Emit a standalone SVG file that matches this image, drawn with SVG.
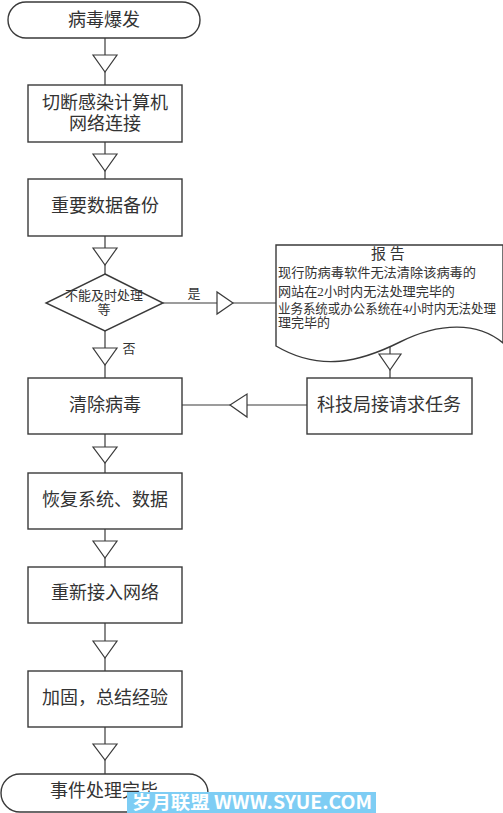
<svg xmlns="http://www.w3.org/2000/svg" width="503" height="813" viewBox="0 0 503 813">
<style>
.s{fill:#fff;stroke:#3a3a3a;stroke-width:1.4}
.ln{fill:none;stroke:#3a3a3a;stroke-width:1.2}
.ar{fill:#fff;stroke:#3a3a3a;stroke-width:1.2}
.t{font-family:"Liberation Serif","Noto Sans CJK SC",serif;font-size:18px;fill:#333;text-anchor:middle;dominant-baseline:central}
.m{font-size:13px}
.r{font-family:"Liberation Serif","Noto Sans CJK SC",serif;font-size:13px;fill:#333}
</style>
<rect width="503" height="813" fill="#fff"/>
<g id="connectors">
<line class="ln" x1="105" y1="38" x2="105" y2="85"/>
<polygon class="ar" points="93,55 117,55 105,72"/>
<line class="ln" x1="105" y1="142" x2="105" y2="179"/>
<polygon class="ar" points="93,154 117,154 105,171"/>
<line class="ln" x1="105" y1="236" x2="105" y2="274"/>
<polygon class="ar" points="93,248 117,248 105,265"/>
<line class="ln" x1="105" y1="331" x2="105" y2="378"/>
<polygon class="ar" points="93,348 117,348 105,365"/>
<line class="ln" x1="163" y1="303" x2="276" y2="303"/>
<polygon class="ar" points="217,292 217,314 233,303"/>
<line class="ln" x1="390" y1="346" x2="390" y2="378"/>
<polygon class="ar" points="379,354 401,354 390,370"/>
<line class="ln" x1="182" y1="405" x2="307" y2="405"/>
<polygon class="ar" points="247,394 247,417 230,405"/>
<line class="ln" x1="105" y1="434" x2="105" y2="473"/>
<polygon class="ar" points="93,447 117,447 105,463"/>
<line class="ln" x1="105" y1="529" x2="105" y2="567"/>
<polygon class="ar" points="93,541 117,541 105,558"/>
<line class="ln" x1="105" y1="623" x2="105" y2="671"/>
<polygon class="ar" points="93,641 117,641 105,658"/>
<line class="ln" x1="105" y1="727" x2="105" y2="774"/>
<polygon class="ar" points="93,744 117,744 105,760"/>
<text class="t m" x="194" y="293">是</text>
<text class="t m" x="129" y="348">否</text>
</g>
<g id="start">
<rect class="s" x="8" y="2" width="192" height="36" rx="18"/>
<text class="t" x="104" y="19.5">病毒爆发</text>
</g>
<g id="cut">
<rect class="s" x="28" y="85" width="154" height="57"/>
<text class="t" x="105" y="103">切断感染计算机</text>
<text class="t" x="105" y="124">网络连接</text>
</g>
<g id="backup">
<rect class="s" x="28" y="179" width="154" height="57"/>
<text class="t" x="105" y="206">重要数据备份</text>
</g>
<g id="decision">
<polygon class="s" points="105,274 163,303 105,331 46,303"/>
<text class="t m" x="104" y="295">不能及时处理</text>
<text class="t m" x="104" y="309.5">等</text>
</g>
<g id="report">
<path class="s" d="M276,346 L276,245 L503,245 L503,343 C478,322 440,322 400,342 C360,362 320,372 276,346 Z"/>
<text class="t" x="388" y="253.5" style="font-size:15px">报 告</text>
<text class="r" x="278" y="277" textLength="198" lengthAdjust="spacingAndGlyphs">现行防病毒软件无法清除该病毒的</text>
<text class="r" x="278" y="296" textLength="177" lengthAdjust="spacingAndGlyphs">网站在2小时内无法处理完毕的</text>
<text class="r" x="278" y="313" textLength="218" lengthAdjust="spacingAndGlyphs">业务系统或办公系统在4小时内无法处理</text>
<text class="r" x="278" y="327" textLength="52" lengthAdjust="spacingAndGlyphs">理完毕的</text>
</g>
<g id="request">
<rect class="s" x="307" y="378" width="165" height="56"/>
<text class="t" x="389" y="405">科技局接请求任务</text>
</g>
<g id="clean">
<rect class="s" x="28" y="378" width="154" height="56"/>
<text class="t" x="105" y="405">清除病毒</text>
</g>
<g id="restore">
<rect class="s" x="28" y="473" width="154" height="56"/>
<text class="t" x="105" y="500">恢复系统、数据</text>
</g>
<g id="reconnect">
<rect class="s" x="28" y="567" width="154" height="56"/>
<text class="t" x="105" y="593">重新接入网络</text>
</g>
<g id="harden">
<rect class="s" x="28" y="671" width="154" height="56"/>
<text class="t" x="105" y="698">加固，总结经验</text>
</g>
<g id="end">
<rect class="s" x="1" y="774" width="207" height="38" rx="19"/>
<text class="t" x="104" y="791">事件处理完毕</text>
</g>
<g id="watermark">
<rect x="127" y="792" width="249" height="21" fill="#7ecdf4"/>
<text x="132" y="809" style="font-family:'Noto Sans CJK SC','DejaVu Sans',sans-serif;font-size:18px;font-weight:bold;fill:#fff" textLength="240" lengthAdjust="spacingAndGlyphs">岁月联盟 WWW.SYUE.COM</text>
</g>
</svg>
